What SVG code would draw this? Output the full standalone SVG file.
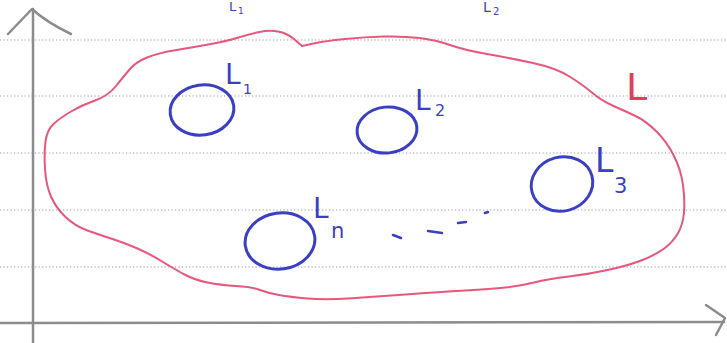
<svg xmlns="http://www.w3.org/2000/svg" width="727" height="343" viewBox="0 0 727 343">
<style>
.dot{stroke:#9a9a9a;stroke-width:1;stroke-dasharray:1.2 2.3;fill:none}
.axis{stroke:#8c8c8c;stroke-width:2.5;fill:none;stroke-linecap:round;stroke-linejoin:round}
.blob{stroke:#e8577c;stroke-width:2;fill:none;stroke-linejoin:round}
.circ{stroke:#3a3fc4;stroke-width:3;fill:none}
.lab{fill:#3a3fc4;font-family:"DejaVu Sans",sans-serif}
.dash{stroke:#3a3fc4;stroke-width:2.5;stroke-linecap:round}
</style>
<rect width="727" height="343" fill="#ffffff"/>
<g id="ruling">
<line class="dot" x1="0" y1="40" x2="727" y2="40"/>
<line class="dot" x1="0" y1="96" x2="727" y2="96"/>
<line class="dot" x1="0" y1="153" x2="727" y2="153"/>
<line class="dot" x1="0" y1="210" x2="727" y2="210"/>
<line class="dot" x1="0" y1="267" x2="727" y2="267"/>
</g>
<g id="top-fragments">
<text class="lab" x="229" y="11" font-size="13">L</text>
<text class="lab" x="238" y="14" font-size="9">1</text>
<text class="lab" x="483" y="12" font-size="14">L</text>
<text class="lab" x="493" y="15" font-size="10">2</text>
</g>
<g id="connectors">
<path class="axis" d="M33,343 L33,9"/>
<path class="axis" d="M8,34 L32,9 Q46,22 71,34"/>
<path class="axis" d="M0,323 L724,322"/>
<path class="axis" d="M706,305 L725,318 L716,335"/>
</g>
<g id="L">
<path class="blob" d="M 45.5,141.5 Q 47,130 53.5,124 Q 60,118 71,111.5 Q 82,105 95,100.5 Q 108,96 116,86 Q 124,76 130,69 Q 136,62 147,57.5 Q 158,53 176.5,50 Q 195,47 211,44 Q 227,41 238.5,37.5 Q 250,34 259.5,32 Q 269,30 278,31.5 Q 287,33 294.5,39.5 L 302,46 L 313.5,43.5 Q 325,41 345,39 Q 365,37 384,36.5 Q 403,36 419.5,38 Q 436,40 450,45 Q 464,50 487,54 Q 510,58 533,63 Q 556,68 569.5,76.5 Q 583,85 592.5,93 Q 602,101 613.5,106 Q 625,111 635.5,116 Q 646,121 656.5,131.5 Q 667,142 674,156 Q 681,170 683,185 Q 685,200 684,212.5 Q 683,225 677.5,234 Q 672,243 663.5,249 Q 655,255 642.5,260 Q 630,265 610,269.5 Q 590,274 569,276.5 Q 548,279 534,282.5 Q 520,286 505.5,287.5 Q 491,289 465.5,290.5 Q 440,292 405.5,294.5 Q 371,297 348,298.5 Q 325,300 307.5,298.5 Q 290,297 279,295 Q 268,293 260,290 Q 252,287 236,286 Q 220,285 207.5,282.5 Q 195,280 185.5,275 Q 176,270 163,262 Q 150,254 137.5,248.5 Q 125,243 112.5,239 Q 100,235 87.5,230.5 Q 75,226 65.5,217 Q 56,208 51,196.5 Q 46,185 45,169 Q 44,153 45.5,141.5 Z"/>
<text x="626" y="100" font-size="38" fill="#e0405a" font-family="DejaVu Sans,sans-serif">L</text>
</g>
<g id="L1">
<ellipse class="circ" cx="202" cy="110" rx="32" ry="25" transform="rotate(-8 202 110)"/>
<text class="lab" x="225" y="84" font-size="28">L</text>
<text class="lab" x="243" y="94" font-size="14">1</text>
</g>
<g id="L2">
<ellipse class="circ" cx="387" cy="130" rx="30" ry="23" transform="rotate(-6 387 130)"/>
<text class="lab" x="415" y="110" font-size="28">L</text>
<text class="lab" x="435" y="116" font-size="16">2</text>
</g>
<g id="L3">
<ellipse class="circ" cx="562" cy="184" rx="31" ry="27" transform="rotate(-15 562 184)"/>
<text class="lab" x="595" y="172" font-size="33">L</text>
<text class="lab" x="614" y="193" font-size="21">3</text>
</g>
<g id="Ln">
<ellipse class="circ" cx="280" cy="241" rx="35" ry="28" transform="rotate(-8 280 241)"/>
<text class="lab" x="313" y="218" font-size="28">L</text>
<text class="lab" x="331" y="238" font-size="21">n</text>
</g>
<g id="ellipsis">
<line class="dash" x1="393" y1="235" x2="401" y2="238"/>
<line class="dash" x1="428" y1="231" x2="442" y2="233"/>
<line class="dash" x1="458" y1="223" x2="466" y2="222"/>
<line class="dash" x1="485" y1="213" x2="488" y2="212"/>
</g>
</svg>
